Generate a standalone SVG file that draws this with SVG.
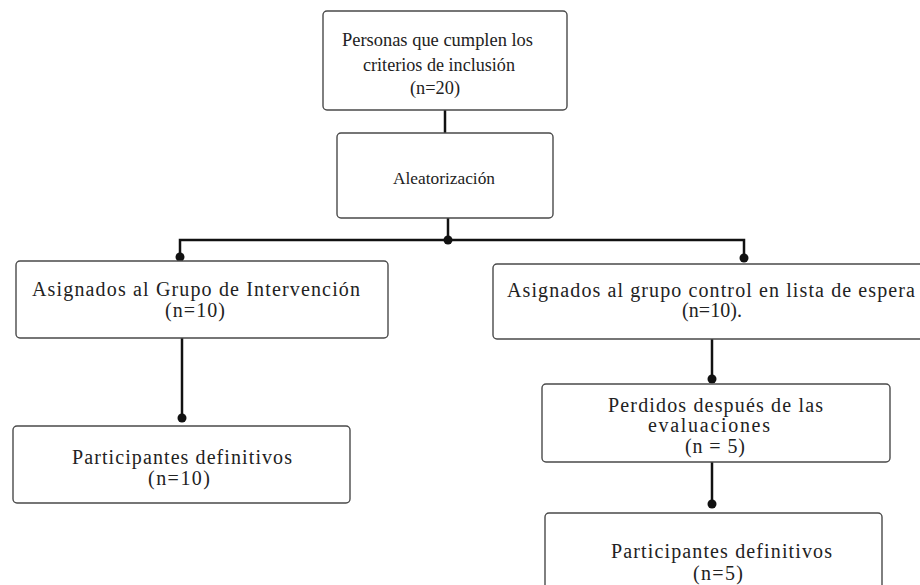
<svg xmlns="http://www.w3.org/2000/svg" width="920" height="585" viewBox="0 0 920 585">
<style>
.box{fill:#fff;stroke:#4a4a4a;stroke-width:1.4}
.t{font-family:'Liberation Serif','DejaVu Serif',serif;fill:#222}
.s19{font-size:19px}
.s17{font-size:17px}
.s20{font-size:20px}
.c{fill:none;stroke:#111;stroke-width:2.5}
.d{fill:#111}
</style>
<rect width="920" height="585" fill="#fff"/>
<g id="connectors">
<path class="c" d="M445 110V133"/>
<path class="c" d="M448 218V240"/>
<path class="c" d="M180 257V240H744V258"/>
<path class="c" d="M182 338V418"/>
<path class="c" d="M712 339V379"/>
<path class="c" d="M712 462V504"/>
<circle class="d" cx="448" cy="240" r="4.5"/>
<circle class="d" cx="180" cy="257" r="4.5"/>
<circle class="d" cx="744" cy="258" r="4.5"/>
<circle class="d" cx="182" cy="418" r="4.5"/>
<circle class="d" cx="712" cy="379" r="4.5"/>
<circle class="d" cx="712" cy="504" r="4.5"/>
</g>
<g id="n1">
<rect class="box" x="323" y="11" width="244" height="99" rx="4"/>
<text class="t s19" x="342" y="46" textLength="191" lengthAdjust="spacingAndGlyphs">Personas que cumplen los</text>
<text class="t s19" x="363" y="71" textLength="152" lengthAdjust="spacingAndGlyphs">criterios de inclusión</text>
<text class="t s19" x="410" y="94" textLength="50" lengthAdjust="spacingAndGlyphs">(n=20)</text>
</g>
<g id="n2">
<rect class="box" x="337" y="133" width="216" height="85" rx="4"/>
<text class="t s17" x="393" y="184" textLength="102" lengthAdjust="spacingAndGlyphs">Aleatorización</text>
</g>
<g id="n3">
<rect class="box" x="16" y="261" width="372" height="77" rx="4"/>
<text class="t s20" x="32" y="296" textLength="328" lengthAdjust="spacing">Asignados al Grupo de Intervención</text>
<text class="t s20" x="165" y="317" textLength="60" lengthAdjust="spacing">(n=10)</text>
</g>
<g id="n4">
<rect class="box" x="493" y="264" width="440" height="75" rx="4"/>
<text class="t s20" x="507" y="297" textLength="408" lengthAdjust="spacing">Asignados al grupo control en lista de espera</text>
<text class="t s20" x="682" y="317" textLength="60" lengthAdjust="spacing">(n=10).</text>
</g>
<g id="n5">
<rect class="box" x="13" y="426" width="337" height="77" rx="4"/>
<text class="t s20" x="72" y="464" textLength="220" lengthAdjust="spacing">Participantes definitivos</text>
<text class="t s20" x="148" y="485" textLength="62" lengthAdjust="spacing">(n=10)</text>
</g>
<g id="n6">
<rect class="box" x="542" y="384" width="348" height="78" rx="4"/>
<text class="t s20" x="608" y="412" textLength="215" lengthAdjust="spacing">Perdidos después de las</text>
<text class="t s20" x="648" y="432" textLength="122" lengthAdjust="spacing">evaluaciones</text>
<text class="t s20" x="685" y="453" textLength="60" lengthAdjust="spacing">(n = 5)</text>
</g>
<g id="n7">
<rect class="box" x="545" y="513" width="337" height="90" rx="4"/>
<text class="t s20" x="611" y="558" textLength="221" lengthAdjust="spacing">Participantes definitivos</text>
<text class="t s20" x="693" y="580" textLength="50" lengthAdjust="spacing">(n=5)</text>
</g>
</svg>
